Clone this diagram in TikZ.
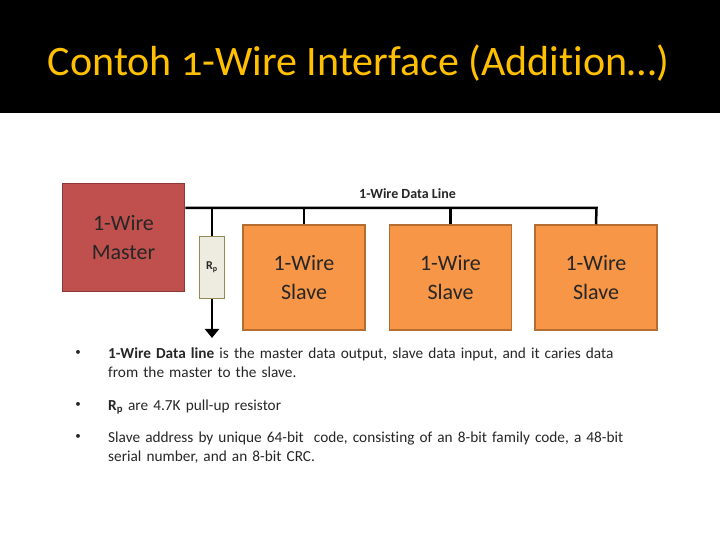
\documentclass[tikz,border=0pt]{standalone}
\usepackage{fontspec}
\setmainfont{Carlito}
\newfontfamily\titleFont[Numbers=OldStyle]{Carlito}
\usepackage{xcolor}
\usepackage{tikz}
\usetikzlibrary{arrows.meta}
\definecolor{baslikSari}{HTML}{FFC000}
\definecolor{masterKirmizi}{HTML}{C0504D}
\definecolor{masterCizgi}{HTML}{8C3836}
\definecolor{slaveTuruncu}{HTML}{F79646}
\definecolor{slaveCizgi}{HTML}{B66D31}
\definecolor{direncDolgu}{HTML}{EEECE1}
\definecolor{direncCizgi}{HTML}{948A54}
\definecolor{yaziGri}{HTML}{262626}

\begin{document}
\begin{tikzpicture}[x=1pt,y=1pt,
  kutu/.style={draw, line width=1.5pt, minimum width=122pt, align=center,
    text=yaziGri, font=\fontsize{22}{29}\selectfont},
  madde/.style={anchor=north west, text width=560pt, align=left, inner sep=0pt,
    text=yaziGri, font=\fontsize{15.3}{19}\selectfont}]
\useasboundingbox (0,0) rectangle (720,540);
% title band
\fill[black] (0,427) rectangle (720,540);
\node[baslikSari] (baslik) at (358.5,477) {\titleFont\fontsize{42}{46}\selectfont Contoh 1-Wire Interface (Addit\kern0pt ion\ldots)};
% blocks
\node[kutu, fill=masterKirmizi, draw=masterCizgi, minimum height=108pt] (master) at (123.5,302.5) {1-Wire\\Master};
\node[kutu, fill=slaveTuruncu, draw=slaveCizgi, minimum height=105pt] (slave1) at (304,262.5) {1-Wire\\Slave};
\node[kutu, fill=slaveTuruncu, draw=slaveCizgi, minimum height=105pt] (slave2) at (450.5,262.5) {1-Wire\\Slave};
\node[kutu, fill=slaveTuruncu, draw=slaveCizgi, minimum height=105pt] (slave3) at (596,262.5) {1-Wire\\Slave};
\node[draw=direncCizgi, fill=direncDolgu, line width=1.2pt, minimum width=25pt, minimum height=62pt,
  font=\fontsize{12}{14}\selectfont\bfseries, text=yaziGri] (rp) at (212,272.5) {R\textsubscript{p}};
% data line
\coordinate (hatSonu) at (596.5,332);
\coordinate (toprak) at (212,202);
\draw[line width=2.5pt] (master.east |- hatSonu) -- (hatSonu) -- (slave3.north);
\draw[line width=2.5pt] (slave1.north) -- (slave1.north |- hatSonu);
\draw[line width=2.5pt] (slave2.north) -- (slave2.north |- hatSonu);
\draw[line width=2.5pt] (rp.north) -- (rp.north |- hatSonu);
\draw[line width=2.5pt, -{Triangle[length=9pt,width=14pt]}] (rp.south) -- (toprak);
\node[font=\fontsize{14}{16}\selectfont\bfseries, text=yaziGri] (hatEtiket) at (407.5,346) {1-Wire Data Line};
% notes
\foreach \y/\isim in {187/b1, 135/b2, 103/b3}
  \node[text=yaziGri, font=\fontsize{11}{13}\selectfont] (\isim) at (78,\y) {•};
\node[madde] (not1) at (108,192.3) {\textbf{1-Wire Data line} is the master data output, slave data input, and it caries data\\from the master to the slave.};
\node[madde] (not2) at (108,140.3) {\textbf{R\textsubscript{p}} are 4.7K pull-up resistor};
\node[madde] (not3) at (108,108.3) {Slave address by unique 64-bit\ \ code, consist\kern0pt ing of an 8-bit family code, a 48-bit\\serial number, and an 8-bit CRC.};
\end{tikzpicture}
\end{document}
